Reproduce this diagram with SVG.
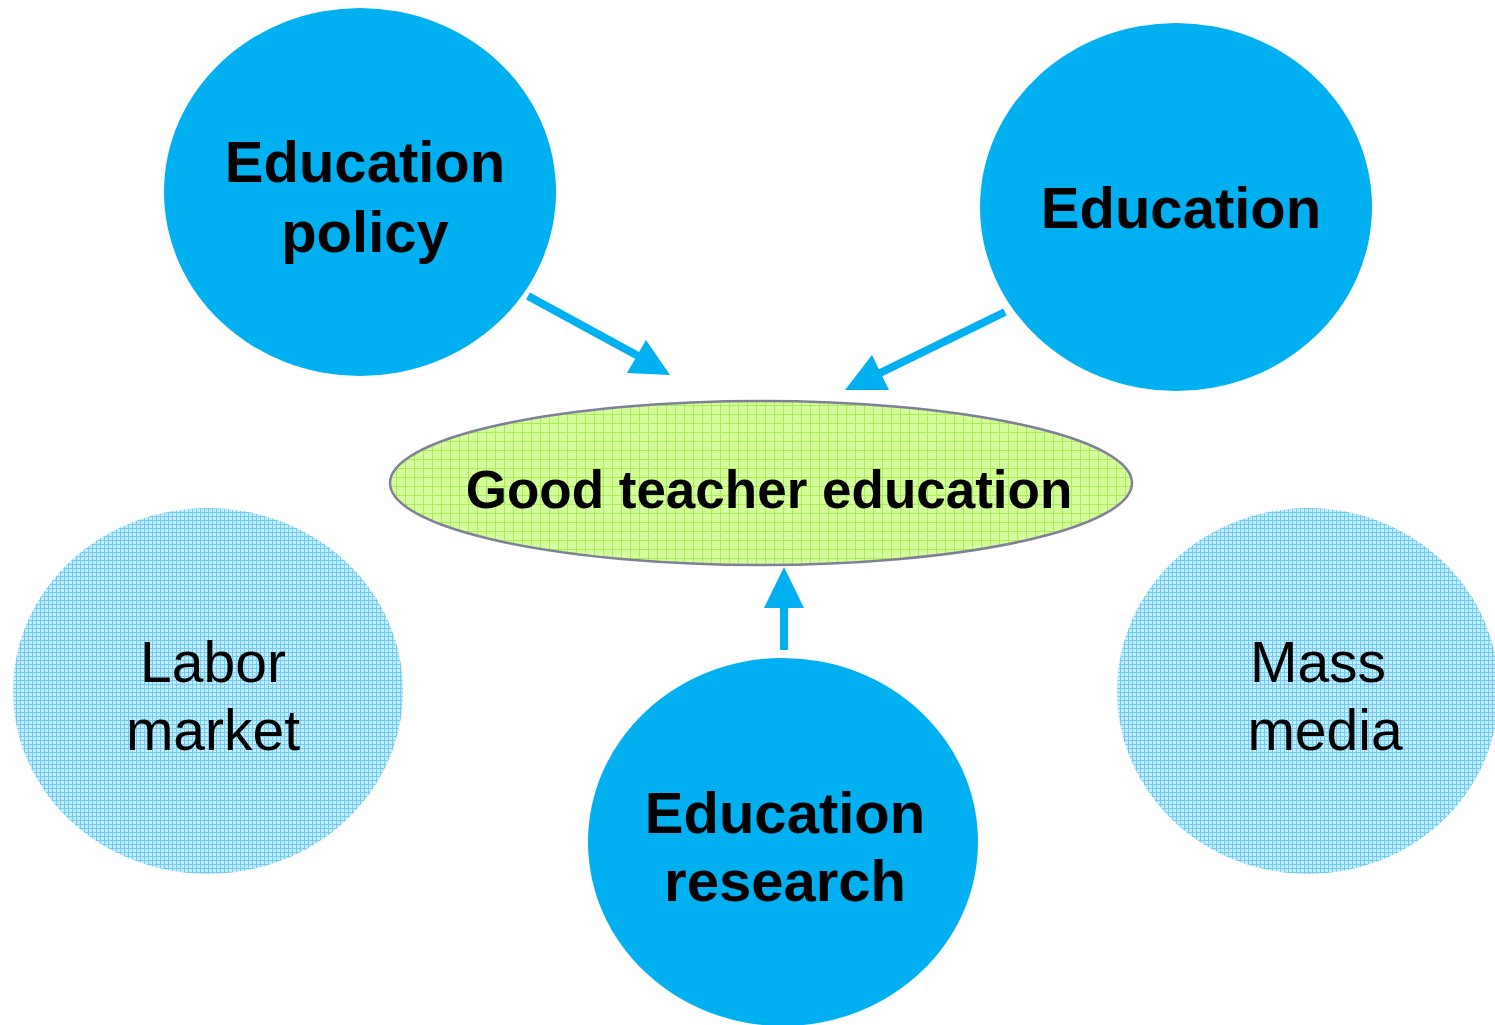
<svg xmlns="http://www.w3.org/2000/svg" width="1495" height="1025" viewBox="0 0 1495 1025">
<style>
.solid{fill:#00b0f0}
.lbl{font-family:"Liberation Sans",Arial,sans-serif;fill:#000;text-anchor:middle}
.b{font-weight:bold}
.conn line{stroke:#00b0f0;stroke-width:8}
.head{fill:#00b0f0}
</style>
<defs>
<pattern id="gridBlue" width="4" height="4" patternUnits="userSpaceOnUse">
<rect width="4" height="4" fill="#c4ecfb"/>
<rect width="4" height="1" fill="#6fcdf2"/>
<rect width="1" height="4" fill="#6fcdf2"/>
</pattern>
<pattern id="gridGreen" width="9" height="9" patternUnits="userSpaceOnUse">
<rect width="9" height="9" fill="#d4fb9c"/>
<rect width="9" height="1" fill="#a8ee55"/>
<rect width="1" height="9" fill="#a8ee55"/>
</pattern>
</defs>
<g id="labor-market">
<ellipse cx="208" cy="691" rx="195" ry="183" fill="url(#gridBlue)"/>
<text class="lbl" font-size="57" x="213" y="682">Labor</text>
<text class="lbl" font-size="57" x="213" y="750">market</text>
</g>
<g id="mass-media">
<ellipse cx="1308" cy="691" rx="191" ry="183" fill="url(#gridBlue)"/>
<text class="lbl" font-size="57" x="1318" y="682">Mass</text>
<text class="lbl" font-size="57" x="1325" y="750">media</text>
</g>
<g id="education-policy">
<ellipse class="solid" cx="360" cy="192" rx="196" ry="184"/>
<text class="lbl b" font-size="58" x="365" y="182">Education</text>
<text class="lbl b" font-size="58" x="365" y="252">policy</text>
</g>
<g id="education">
<ellipse class="solid" cx="1176" cy="207" rx="196" ry="184"/>
<text class="lbl b" font-size="58" x="1181" y="228">Education</text>
</g>
<g id="education-research">
<ellipse class="solid" cx="783" cy="842" rx="195" ry="184"/>
<text class="lbl b" font-size="58" x="785" y="833">Education</text>
<text class="lbl b" font-size="58" x="785" y="901">research</text>
</g>
<g id="good-teacher-education">
<ellipse cx="761" cy="483" rx="371" ry="82" fill="url(#gridGreen)" stroke="#7f7f9a" stroke-width="2.5"/>
<text class="lbl b" font-size="53" x="769" y="508">Good teacher education</text>
</g>
<g id="connectors" class="conn">
<line x1="528" y1="296" x2="640" y2="357"/>
<polygon class="head" points="670,375 627,373 646,340"/>
<line x1="1005" y1="312" x2="876" y2="375"/>
<polygon class="head" points="845,390 872,355 889,390"/>
<line x1="784" y1="650" x2="784" y2="605"/>
<polygon class="head" points="784,567 764,608 804,608"/>
</g>
</svg>
